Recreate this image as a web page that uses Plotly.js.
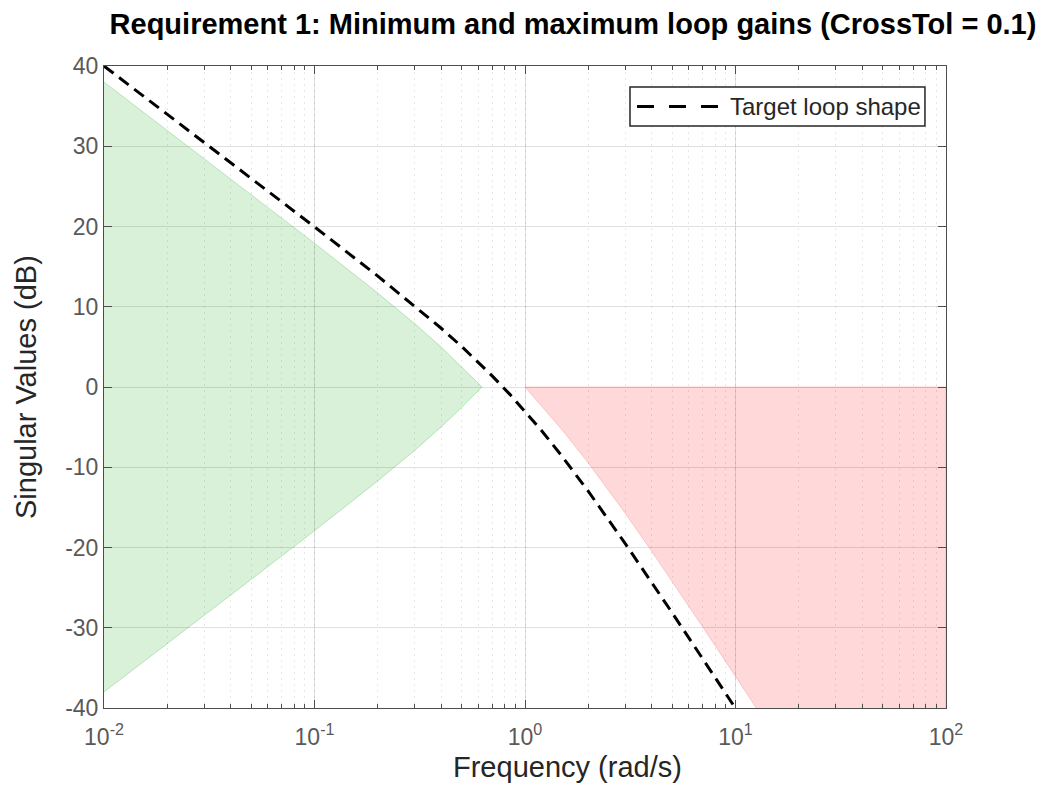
<!DOCTYPE html>
<html>
<head>
<meta charset="utf-8">
<script src="https://cdn.plot.ly/plotly-3.0.1.min.js"></script>
<style>
  html, body { margin: 0; padding: 0; background: #fff; }
  #chart { width: 1044px; height: 788px; }
</style>
</head>
<body>
<div id="chart"></div>
<script>
// Target loop shape (dashed black)
const targetFreq = [0.01, 0.02, 0.05, 0.1, 0.2, 0.3, 0.4, 0.5, 0.7, 0.85, 1, 1.2, 1.5, 2, 3, 4, 5, 7, 10];
const targetDb   = [40.0, 33.98, 26.01, 19.96, 13.81, 10.08, 7.32, 5.05, 1.36, -0.95, -3.01, -5.45, -8.64, -13.01, -19.54, -24.34, -28.13, -33.9, -40.04];

// Minimum gain region (green), upper boundary; lower boundary is its mirror
const minFreq = [0.01, 0.02, 0.05, 0.1, 0.2, 0.3, 0.4, 0.5, 0.6, 0.625];
const minDb   = [38.0, 31.97, 23.99, 17.92, 11.70, 7.87, 4.97, 2.56, 0.47, 0.0];

// Maximum gain region (red), lower boundary, capped at 0 dB
const maxFreq = [1, 1.2, 1.5, 2, 3, 4, 5, 7, 10, 12.6, 20, 50, 100];
const maxDb   = [0, -2.37, -5.34, -9.48, -15.76, -20.48, -24.21, -29.94, -36.06, -40.04, -48.04, -63.95, -75.99];
const maxCapDb = 0;

// Axis ticks
const xTickVals = [0.01, 0.1, 1, 10, 100];
const xTickText = ['10<sup>-2</sup>', '10<sup>-1</sup>', '10<sup>0</sup>', '10<sup>1</sup>', '10<sup>2</sup>'];
const yTickVals = [-40, -30, -20, -10, 0, 10, 20, 30, 40];
const yTickText = ['-40', '-30', '-20', '-10', '0', '10', '20', '30', '40'];

const seriesName = 'Target loop shape';

// Build polygons from the arrays
const greenX = minFreq.concat(minFreq.slice().reverse());
const greenY = minDb.concat(minDb.slice().reverse().map(v => -v));

const redX = maxFreq.concat([maxFreq[maxFreq.length - 1], maxFreq[0]]);
const redY = maxDb.concat([maxCapDb, maxCapDb]);

const DASH = '12px,7px';
const LEGEND_DASH = '17px,15px';
const FONT = 'Liberation Sans, Arial, Helvetica, sans-serif';

const traces = [
  {
    x: greenX, y: greenY, type: 'scatter', mode: 'lines',
    fill: 'toself', fillcolor: 'rgba(0,160,0,0.15)',
    line: { color: 'rgba(0,160,0,0.22)', width: 1 },
    hoverinfo: 'skip', showlegend: false
  },
  {
    x: redX, y: redY, type: 'scatter', mode: 'lines',
    fill: 'toself', fillcolor: 'rgba(255,0,0,0.15)',
    line: { color: 'rgba(255,0,0,0.18)', width: 1 },
    hoverinfo: 'skip', showlegend: false
  },
  {
    x: targetFreq, y: targetDb, type: 'scatter', mode: 'lines',
    name: seriesName, showlegend: false,
    line: { color: '#000', width: 3, dash: DASH }
  }
];

const tickFont = { family: FONT, size: 23, color: '#595959' };

// custom legend box (paper coordinates)
const lg = { x0: 0.6247, x1: 0.975, y0: 0.9064, y1: 0.9672, lx0: 0.6330, lx1: 0.7304, ly: 0.9368, tx: 0.7405 };

const layout = {
  width: 1044, height: 788,
  margin: { l: 104, r: 98, t: 66, b: 80 },
  paper_bgcolor: '#fff', plot_bgcolor: '#fff',
  font: { family: FONT, color: '#262626' },
  title: {
    text: 'Requirement 1: Minimum and maximum loop gains (CrossTol = 0.1)',
    font: { family: FONT, size: 29, color: '#000', weight: 'bold' },
    x: 0.557, xref: 'paper', xanchor: 'center',
    y: 0.9695, yref: 'container', yanchor: 'middle'
  },
  xaxis: {
    type: 'log', range: [-2, 2],
    tickvals: xTickVals, ticktext: xTickText,
    ticks: 'inside', ticklen: 8, tickcolor: '#4d4d4d',
    ticklabelstandoff: 8,
    showline: true, linecolor: '#4d4d4d', linewidth: 1, mirror: 'allticks',
    showgrid: true, gridcolor: 'rgba(0,0,0,0.12)', gridwidth: 1,
    zeroline: false,
    tickfont: tickFont,
    minor: { ticks: 'inside', ticklen: 4, tickcolor: '#4d4d4d', dtick: 'D1',
             showgrid: true, gridcolor: 'rgba(0,0,0,0.09)', griddash: '2px,4px', gridwidth: 1 }
  },
  yaxis: {
    range: [-40, 40],
    tickvals: yTickVals, ticktext: yTickText,
    ticks: 'inside', ticklen: 8, tickcolor: '#4d4d4d',
    showline: true, linecolor: '#4d4d4d', linewidth: 1, mirror: 'allticks',
    showgrid: true, gridcolor: 'rgba(0,0,0,0.12)', gridwidth: 1,
    zeroline: false,
    tickfont: tickFont
  },
  showlegend: false,
  shapes: [
    { type: 'rect', xref: 'paper', yref: 'paper', x0: lg.x0, x1: lg.x1, y0: lg.y0, y1: lg.y1,
      fillcolor: '#fff', line: { color: '#262626', width: 1.5 } },
    { type: 'line', xref: 'paper', yref: 'paper', x0: lg.lx0, x1: lg.lx1, y0: lg.ly, y1: lg.ly,
      line: { color: '#000', width: 3, dash: LEGEND_DASH } }
  ],
  annotations: [
    { text: seriesName, xref: 'paper', yref: 'paper', x: lg.tx, y: lg.ly,
      xanchor: 'left', yanchor: 'middle', showarrow: false,
      font: { family: FONT, size: 24, color: '#262626' } },
    { text: 'Frequency (rad/s)', xref: 'paper', yref: 'paper', x: 0.551, y: -0.092,
      xanchor: 'center', yanchor: 'middle', showarrow: false,
      font: { family: FONT, size: 29, color: '#262626' } },
    { text: 'Singular Values (dB)', xref: 'paper', yref: 'paper', x: -0.0926, y: 0.5,
      xanchor: 'center', yanchor: 'middle', textangle: -90, showarrow: false,
      font: { family: FONT, size: 29, color: '#262626' } }
  ]
};

Plotly.newPlot('chart', traces, layout, { displayModeBar: false, staticPlot: true });
</script>
</body>
</html>
